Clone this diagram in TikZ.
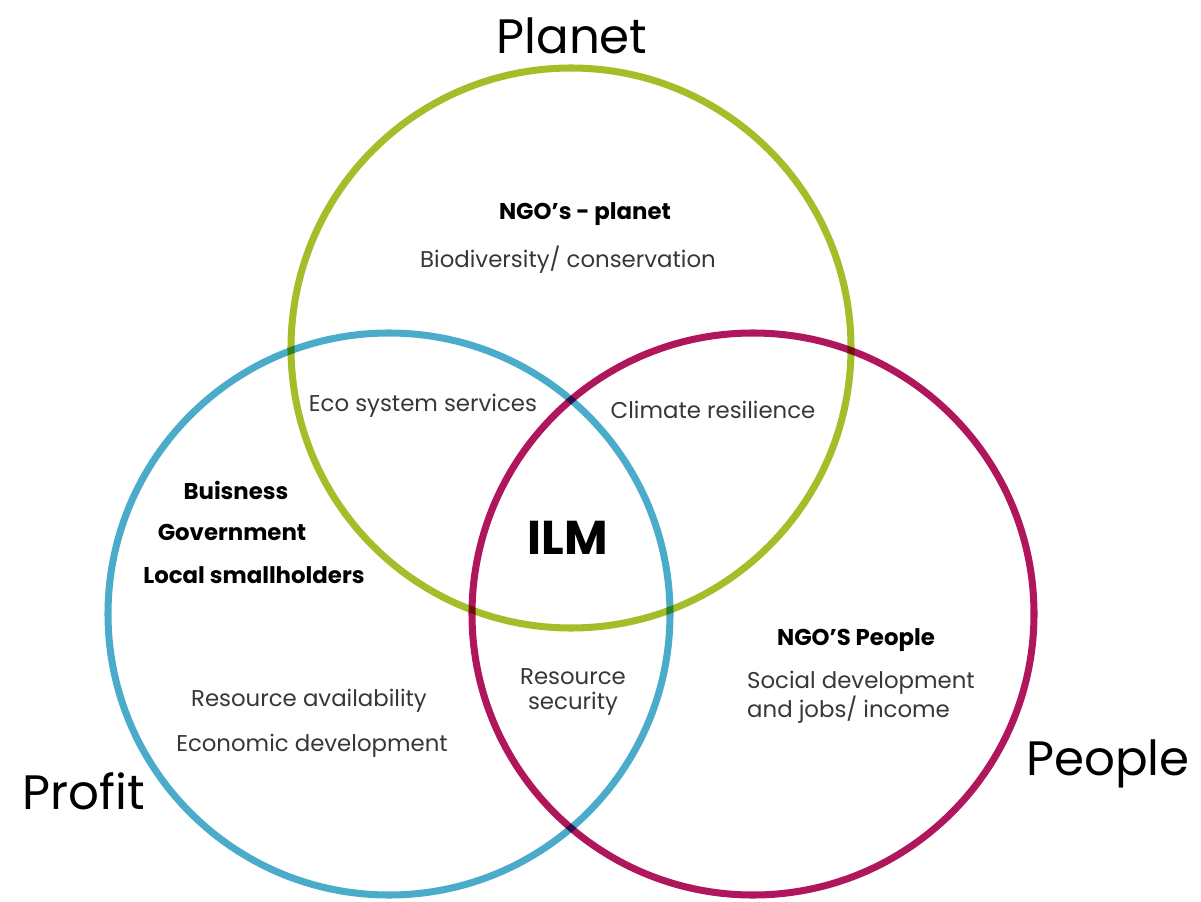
\documentclass[tikz,border=0pt]{standalone}
\usepackage{fontspec}
\setmainfont{Poppins}
\usetikzlibrary{positioning}

\definecolor{planetgreen}{RGB}{164,190,42}
\definecolor{profitblue}{RGB}{74,172,202}
\definecolor{peoplered}{RGB}{176,22,92}
\definecolor{txtgray}{RGB}{55,55,55}

\tikzset{
  ring/.style={line width=4pt},
  title/.style={font=\fontsize{27.5}{30}\selectfont, text=black},
  body/.style={font=\fontsize{13}{14.7}\selectfont, text=txtgray},
  head/.style={font=\bfseries\fontsize{13}{14.7}\selectfont, text=black},
}

\begin{document}
\begin{tikzpicture}[x=0.02cm, y=-0.02cm]
    \useasboundingbox (0,0) rectangle (1201,902);

    % Cercles
    \begin{scope}[blend mode=multiply]
        \draw[ring, planetgreen] (571,348) circle (280);
        \draw[ring, profitblue] (389,614) circle (281);
        \draw[ring, peoplered] (753,614) circle (281);
    \end{scope}

    % Titres
    \node[title] (planet) at (572,36) {Planet};
    \node[title] (profit) at (84,791) {Profit};
    \node[title] (people) at (1108,764) {People};

    % Planet
    \node[head] (ngoplanet) at (585,214) {NGO's - planet};
    \node[body] (biodiv) at (568,260) {Biodiversity/ conservation};

    % Intersections
    \node[body] (eco) at (423,406) {Eco system services};
    \node[body] (climate) at (713,410) {Climate resilience};
    \node[body, align=center] (ressec) at (573,692) {Resource\\security};
    \node[font=\bfseries\fontsize{27}{30}\selectfont] (ilm) at (568,538) {ILM};

    % Profit
    \node[head] (business) at (236,490) {Buisness};
    \node[head] (gov) at (232,532) {Government};
    \node[head] (local) at (254,575) {Local smallholders};
    \node[body] (resavail) at (309,701) {Resource availability};
    \node[body] (econ) at (312,746) {Economic development};

    % People
    \node[head] (ngopeople) at (856,640) {NGO'S People};
    \node[body, align=left, anchor=west, font=\fontsize{13}{16.4}\selectfont] (social) at (741,697) {Social development\\and jobs/ income};
\end{tikzpicture}
\end{document}
